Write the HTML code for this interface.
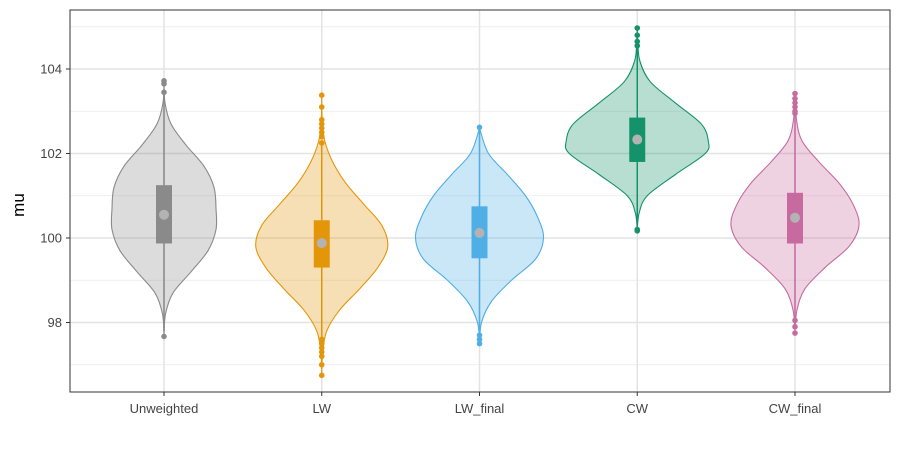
<!DOCTYPE html>
<html><head><meta charset="utf-8"><style>
body{margin:0;background:#fff;}
svg text{font-family:"Liberation Sans",Arial,sans-serif;}
</style></head><body>
<svg id="chart" width="900" height="450" xmlns="http://www.w3.org/2000/svg"></svg>
<script>
const categories=["Unweighted","LW","LW_final","CW","CW_final"];
const colors=["#8a8a8a","#E4960A","#4FAEE6","#14936A","#C66A9F"];
const levels=[
[97.7,98.2,98.7,99.2,99.7,100.2,100.7,101.2,101.7,102.2,102.7,103.2,103.7],
[96.8,97.3,97.8,98.3,98.8,99.3,99.8,100.3,100.8,101.3,101.8,102.3,102.8,103.4],
[97.5,98,98.5,99,99.5,100,100.5,101,101.5,102,102.6],
[100.2,100.6,101,101.5,102,102.3,102.7,103.2,103.7,104.2,104.7,105],
[97.8,98.3,98.8,99.3,99.8,100.3,100.8,101.3,101.8,102.3,102.8,103.4]];
const densities=[
[0,1.5,9,27,44,52,52,50,40,22,7,1,0],
[0,1,5,18,38,56,66,60,42,24,11,3,0.5,0],
[0,2,12,32,56,64,58,46,28,9,0],
[0,2,10,38,68,71,64,38,13,2.5,0.5,0],
[0,2,10,30,54,64,58,44,24,7,1.5,0]];
const q1=[99.87,99.3,99.52,101.8,99.87];
const q3=[101.25,100.42,100.75,102.85,101.07];
const means=[100.55,99.88,100.12,102.33,100.48];
const whiskLo=[97.8,97.6,97.8,100.3,98.1];
const whiskHi=[103.4,102.2,102.6,104.5,102.9];
const outliers=[
[103.72,103.65,103.45,97.67],
[103.38,103.1,102.8,102.7,102.6,102.5,102.4,102.25,97.6,97.5,97.4,97.3,97.2,97.0,96.75],
[102.62,97.7,97.6,97.5],
[104.97,104.8,104.65,104.55,100.2,100.17],
[103.42,103.3,103.2,103.1,103.0,102.95,98.05,97.9,97.75]];
const yTicks=[98,100,102,104];
const yMinor=[97,99,101,103,105];
const L=70,R=890,T=10,B=392;
const y=v=>238-(v-100)*42.25;
const x=i=>164+i*157.75;
const svg=document.getElementById('chart');
const NS="http://www.w3.org/2000/svg";
function mk(t,a,p){const e=document.createElementNS(NS,t);for(const k in a)e.setAttribute(k,a[k]);(p||svg).appendChild(e);return e;}
mk('rect',{x:L,y:T,width:R-L,height:B-T,fill:'#fff'});
yMinor.forEach(v=>{if(y(v)>T&&y(v)<B){const g=mk('line',{x1:L,x2:R,y1:y(v),y2:y(v),stroke:'#ebebeb','stroke-width':0.8});

}});
yTicks.forEach(v=>{const g=mk('line',{x1:L,x2:R,y1:y(v),y2:y(v),stroke:'#e3e3e3','stroke-width':1.5});


mk('line',{x1:L-4,x2:L,y1:y(v),y2:y(v),stroke:'#333','stroke-width':1});
const t=mk('text',{x:L-8,y:y(v)+4.5,'text-anchor':'end','font-size':13,fill:'#444'});t.textContent=v;

});
categories.forEach((c,i)=>{const g=mk('line',{x1:x(i),x2:x(i),y1:T,y2:B,stroke:'#e3e3e3','stroke-width':1.5});

});
function smooth(pts){let d='M'+pts[0][0]+','+pts[0][1];for(let i=0;i<pts.length-1;i++){const p0=pts[Math.max(i-1,0)],p1=pts[i],p2=pts[i+1],p3=pts[Math.min(i+2,pts.length-1)];
d+=' C'+(p1[0]+(p2[0]-p0[0])/6)+','+(p1[1]+(p2[1]-p0[1])/6)+' '+(p2[0]-(p3[0]-p1[0])/6)+','+(p2[1]-(p3[1]-p1[1])/6)+' '+p2[0]+','+p2[1];}return d;}
categories.forEach((c,i)=>{
const cx=x(i),col=colors[i];
const right=levels[i].map((v,k)=>[cx+densities[i][k],y(v)]);
const left=levels[i].map((v,k)=>[cx-densities[i][k],y(v)]).reverse();
const sl=smooth(left);
const d=smooth(right)+' L'+left[0][0]+','+left[0][1]+sl.slice(sl.indexOf(' C'))+'Z';
const v=mk('path',{d:d,fill:col,'fill-opacity':0.3,stroke:col,'stroke-width':1.1});


const w=mk('line',{x1:cx,x2:cx,y1:y(whiskLo[i]),y2:y(whiskHi[i]),stroke:col,'stroke-width':1.5});


outliers[i].forEach(o=>{const p=mk('circle',{cx:cx,cy:y(o),r:2.8,fill:col});

});
const b=mk('rect',{x:cx-8,y:y(q3[i]),width:16,height:y(q1[i])-y(q3[i]),fill:col});


const m=mk('circle',{cx:cx,cy:y(means[i]),r:5,fill:'#b3b3b3'});


mk('line',{x1:cx,x2:cx,y1:B,y2:B+4,stroke:'#333','stroke-width':1});
const t=mk('text',{x:cx,y:413,'text-anchor':'middle','font-size':13,fill:'#444'});t.textContent=c;


});
const fr=mk('rect',{x:L,y:T,width:R-L,height:B-T,fill:'none',stroke:'#333','stroke-width':1});


const yl=mk('text',{x:0,y:0,transform:'translate(24,205) rotate(-90)','text-anchor':'middle','font-size':17,fill:'#000'});yl.textContent='mu';


</script>
</body></html>
